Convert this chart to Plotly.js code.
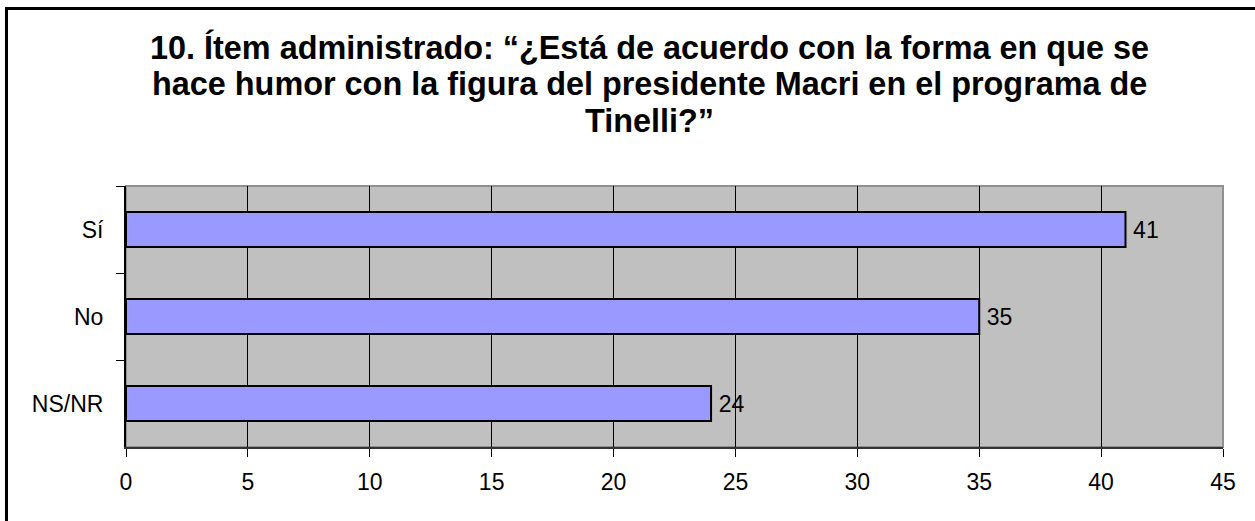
<!DOCTYPE html>
<html>
<head>
<meta charset="utf-8">
<script src="https://cdn.plot.ly/plotly-3.0.1.min.js"></script>
<style>
  html, body { margin: 0; padding: 0; background: #fff; }
  #chart { width: 1255px; height: 521px; }
</style>
</head>
<body>
<div id="chart"></div>
<script>
// ---- data ----
const categories = ['Sí', 'No', 'NS/NR'];
const values = [41, 35, 24];
const titleLines = [
  '10. Ítem administrado: “¿Está de acuerdo con la forma en que se',
  'hace humor con la figura del presidente Macri en el programa de',
  'Tinelli?”'
];
const xTickVals = [0, 5, 10, 15, 20, 25, 30, 35, 40, 45];

// ---- layout geometry ----
const W = 1255, H = 521;
const mL = 126, mR = 32, mT = 186, mB = 74;
const pw = W - mL - mR, ph = H - mT - mB;
const px2x = p => (p - mL) / pw;
const py2y = p => (H - mB - p) / ph;

const font = 'Liberation Sans, Arial, sans-serif';

const trace = {
  type: 'bar',
  orientation: 'h',
  y: categories,
  x: values,
  width: 0.4,
  marker: { color: '#9999FF', line: { color: '#000000', width: 2 } },
  text: values.map(v => '\u2009' + v),
  textposition: 'outside',
  textfont: { family: font, size: 23, color: '#000' },
  cliponaxis: false,
  hoverinfo: 'none'
};

const titleCenters = [47, 84, 121];
const annotations = titleLines.map((t, i) => ({
  text: t,
  xref: 'paper', yref: 'paper',
  x: px2x(649), y: py2y(titleCenters[i]),
  xanchor: 'center', yanchor: 'middle',
  showarrow: false,
  font: { family: font, size: 32.4, color: '#000', weight: 'bold' }
}));

const layout = {
  width: W, height: H,
  margin: { l: mL, r: mR, t: mT, b: mB, pad: 0 },
  paper_bgcolor: '#ffffff',
  plot_bgcolor: '#C0C0C0',
  showlegend: false,
  bargap: 0.6,
  xaxis: {
    range: [0, 45],
    tickvals: xTickVals,
    ticktext: xTickVals.map(String),
    ticks: 'outside', ticklen: 8, tickwidth: 1, tickcolor: '#000',
    showgrid: true, gridcolor: '#000', gridwidth: 1,
    zeroline: false,
    showline: true, linecolor: '#333', linewidth: 2,
    ticklabelstandoff: 5,
    tickfont: { family: font, size: 23, color: '#000' },
    fixedrange: true
  },
  yaxis: {
    type: 'category',
    autorange: 'reversed',
    tickson: 'boundaries',
    ticks: 'outside', ticklen: 8, tickwidth: 1, tickcolor: '#000',
    showgrid: false, zeroline: false,
    showline: true, linecolor: '#000', linewidth: 2,
    ticklabelstandoff: 16,
    tickfont: { family: font, size: 23, color: '#000' },
    fixedrange: true
  },
  shapes: [
    // plot area border (top / right, gray)
    { type: 'rect', xref: 'paper', yref: 'paper', x0: 0, x1: 1, y0: 0, y1: 1,
      line: { color: '#909090', width: 2 }, fillcolor: 'rgba(0,0,0,0)', layer: 'below' },
    // outer chart frame (left and top edges visible)
    { type: 'line', xref: 'paper', yref: 'paper',
      x0: px2x(6.5), x1: px2x(6.5), y0: py2y(7), y1: py2y(530),
      line: { color: '#000', width: 3 } },
    { type: 'line', xref: 'paper', yref: 'paper',
      x0: px2x(5), x1: px2x(1265), y0: py2y(8.5), y1: py2y(8.5),
      line: { color: '#000', width: 3 } }
  ],
  annotations: annotations
};

Plotly.newPlot('chart', [trace], layout, { displayModeBar: false, staticPlot: true });
</script>
</body>
</html>
